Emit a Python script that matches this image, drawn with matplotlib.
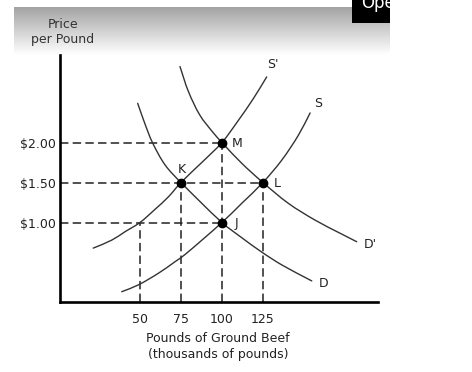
import numpy as np
import matplotlib
matplotlib.use("Agg")
import matplotlib.pyplot as plt
from matplotlib.path import Path
from matplotlib.patches import PathPatch

# ---------------- data ----------------
# Supply S
s_x = [38.9, 49.0, 61.2, 71.4, 77.5, 100, 112.1, 125, 136.5, 146.6, 153.8]
s_y = [0.135, 0.22, 0.365, 0.51, 0.60, 1.00, 1.24, 1.50, 1.78, 2.09, 2.37]
# Supply S'
s2_x = [21.5, 32.8, 40.9, 50, 59.2, 67.3, 75, 87.7, 100, 109.8, 119.2, 127.3]
s2_y = [0.68, 0.78, 0.885, 1.00, 1.165, 1.32, 1.50, 1.75, 2.00, 2.27, 2.55, 2.82]
# Demand D
d_x = [48.6, 53.1, 57.6, 65.3, 75, 100, 112.1, 124.3, 136.5, 154.8]
d_y = [2.49, 2.23, 2.00, 1.72, 1.50, 1.00, 0.81, 0.63, 0.47, 0.27]
# Demand D'
d2_x = [74.4, 79.5, 86.6, 94.8, 100, 112.1, 125, 140.5, 156.8, 173.1, 182.2]
d2_y = [2.95, 2.64, 2.34, 2.12, 2.00, 1.74, 1.50, 1.24, 1.03, 0.855, 0.76]

# equilibrium points
pt_names = ["M", "K", "L", "J"]
pt_x = [100, 75, 125, 100]
pt_y = [2.00, 1.50, 1.50, 1.00]

# dashed guide lines
h_levels = [2.00, 1.50, 1.00]
h_ends = [100, 125, 100]
v_levels = [50, 75, 100, 125]
v_tops = [1.00, 1.50, 2.00, 1.50]

y_ticks = [1.00, 1.50, 2.00]
y_tick_labels = ["$1.00", "$1.50", "$2.00"]
x_ticks = [50, 75, 100, 125]
x_tick_labels = ["50", "75", "100", "125"]

curve_names = ["S'", "S", "D", "D'"]
curve_label_x = [131.2, 158.6, 161.7, 190.4]
curve_label_y = [2.97, 2.49, 0.24, 0.73]

# ---------------- helpers ----------------
X_PX, Y_PX = 1.639, 80.0   # approx pixels per data unit, for smooth tangents


def smooth_path(xs, ys):
    """Smooth cubic (Hermite -> Bezier) path through the given points."""
    P = np.column_stack([xs, ys]).astype(float)
    S = P * [X_PX, Y_PX]
    d = np.hypot(*np.diff(S, axis=0).T)
    t = np.concatenate([[0], np.cumsum(d)])
    n = len(P)
    m = np.zeros_like(P)
    for i in range(n):
        if i == 0:
            m[i] = (P[1] - P[0]) / (t[1] - t[0])
        elif i == n - 1:
            m[i] = (P[-1] - P[-2]) / (t[-1] - t[-2])
        else:
            m[i] = (P[i + 1] - P[i - 1]) / (t[i + 1] - t[i - 1])
    verts = [P[0]]
    codes = [Path.MOVETO]
    for i in range(n - 1):
        h = t[i + 1] - t[i]
        verts += [P[i] + m[i] * h / 3, P[i + 1] - m[i + 1] * h / 3, P[i + 1]]
        codes += [Path.CURVE4] * 3
    return Path(verts, codes)


# ---------------- figure ----------------
W, H = 472, 372
fig = plt.figure(figsize=(W / 100, H / 100), dpi=100)
fig.patch.set_facecolor("white")

# grey gradient header
bg = fig.add_axes([14 / W, 1 - 55 / H, (390 - 14) / W, (55 - 7) / H], zorder=0)
grad = np.linspace(0.64, 1.0, 100).reshape(-1, 1)
bg.imshow(grad, cmap="gray", vmin=0, vmax=1, aspect="auto")
bg.set_axis_off()

# black box top-right with clipped text
box = fig.add_axes([352 / W, 1 - 23 / H, 38 / W, 23 / H], zorder=1)
box.set_facecolor("black")
box.set_xticks([]); box.set_yticks([])
for sp in box.spines.values():
    sp.set_visible(False)
box.set_xlim(0, 38); box.set_ylim(23, 0)
box.text(9, 8, "Ope", color="white", fontsize=12, va="baseline", ha="left",
         clip_on=True)

ax = fig.add_axes([60 / W, 1 - 301.7 / H, (378 - 60) / W, (301.7 - 55) / H], zorder=2)
ax.patch.set_alpha(0)
ax.set_xlim(1.22, 195.2)
ax.set_ylim(0.01, 3.094)

for sp in ["top", "right"]:
    ax.spines[sp].set_visible(False)
for sp in ["left", "bottom"]:
    ax.spines[sp].set_linewidth(1.9)
    ax.spines[sp].set_color("black")

ax.set_yticks(y_ticks)
ax.set_yticklabels(y_tick_labels)
ax.set_xticks(x_ticks)
ax.set_xticklabels(x_tick_labels)
ax.tick_params(axis="both", length=0, labelsize=9, colors="#222222")
ax.tick_params(axis="y", pad=3)
ax.tick_params(axis="x", pad=8)

dash = (0, (5.5, 2.8))
for lvl, end in zip(h_levels, h_ends):
    ax.plot([ax.get_xlim()[0], end], [lvl, lvl], color="#222222", lw=1.1,
            linestyle=dash, zorder=2)
for xv, top in zip(v_levels, v_tops):
    ax.plot([xv, xv], [0, top], color="#222222", lw=1.1, linestyle=dash, zorder=2)

curve_color = "#333333"
for cx, cy in [(s_x, s_y), (s2_x, s2_y), (d_x, d_y), (d2_x, d2_y)]:
    ax.add_patch(PathPatch(smooth_path(cx, cy), fill=False, edgecolor=curve_color,
                           lw=1.0, zorder=3, capstyle="round"))

ax.plot(pt_x, pt_y, "o", color="black", markersize=6, zorder=4)

pt_dx = [9.2, 0.6, 9.0, 8.6]
pt_dy = [-0.01, 0.16, -0.01, -0.01]
for n, x, y, dx, dy in zip(pt_names, pt_x, pt_y, pt_dx, pt_dy):
    ax.text(x + dx, y + dy, n, fontsize=9, color="#222222", ha="center", va="center")

for n, x, y in zip(curve_names, curve_label_x, curve_label_y):
    ax.text(x, y, n, fontsize=9, color="#222222", ha="center", va="center")

fig.text(63 / W, 1 - 32 / H, "Price\nper Pound", ha="center", va="center",
         fontsize=9, color="#333333", linespacing=1.25, zorder=3)
fig.text(218 / W, 1 - 346.5 / H, "Pounds of Ground Beef\n(thousands of pounds)",
         ha="center", va="center", fontsize=9, color="#222222", linespacing=1.25)

fig.savefig("out.png", dpi=100)
